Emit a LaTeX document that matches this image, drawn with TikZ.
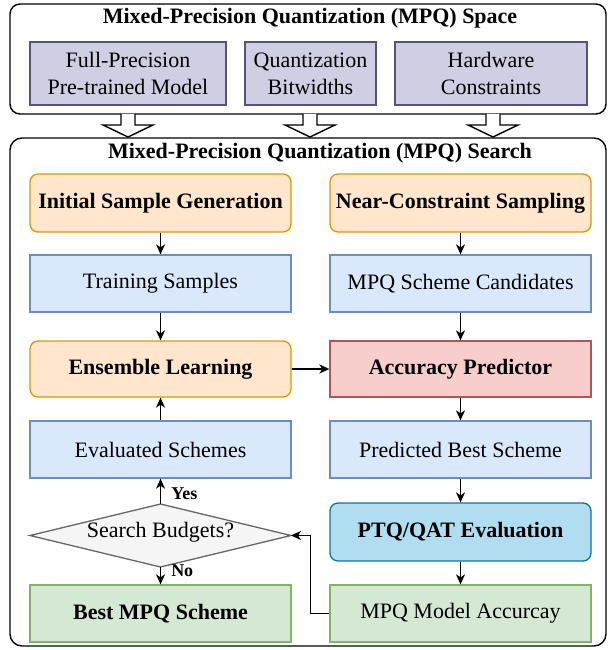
\documentclass[tikz,border=0pt]{standalone}
\usepackage{fontspec}
\setmainfont{Liberation Serif}
\usetikzlibrary{arrows.meta,shapes.geometric}
\definecolor{purpF}{HTML}{D0CEE2}
\definecolor{purpS}{HTML}{56517E}
\definecolor{oraF}{HTML}{FFE6CC}
\definecolor{oraS}{HTML}{D79B00}
\definecolor{bluF}{HTML}{DAE8FC}
\definecolor{bluS}{HTML}{6C8EBF}
\definecolor{redF}{HTML}{F8CECC}
\definecolor{redS}{HTML}{B85450}
\definecolor{cyaF}{HTML}{B1DDF0}
\definecolor{cyaS}{HTML}{10739E}
\definecolor{grnF}{HTML}{D5E8D4}
\definecolor{grnS}{HTML}{82B366}
\definecolor{gryF}{HTML}{F5F5F5}
\definecolor{gryS}{HTML}{666666}
\begin{document}
\begin{tikzpicture}[x=1pt,y=-1pt,
  font=\fontsize{22}{27}\selectfont,
  base/.style={line width=1.3pt, minimum width=261pt, align=center, inner sep=0pt},
  purp/.style={draw=purpS, fill=purpF, line width=1.3pt, minimum height=63pt, align=center, inner sep=0pt},
  orangebox/.style={base, draw=oraS, fill=oraF, rounded corners=8pt, font=\fontsize{22}{27}\selectfont\bfseries},
  bluebox/.style={base, draw=bluS, fill=bluF},
  redbox/.style={base, draw=redS, fill=redF, font=\fontsize{22}{27}\selectfont\bfseries},
  cyanbox/.style={base, draw=cyaS, fill=cyaF, rounded corners=8pt, font=\fontsize{22}{27}\selectfont\bfseries},
  greenbox/.style={base, draw=grnS, fill=grnF},
  frame/.style={draw=black, line width=1.4pt, rounded corners=10pt},
  titletext/.style={font=\fontsize{22}{27}\selectfont\bfseries, inner sep=0pt},
  arr/.style={-{Stealth[length=10pt,width=9pt,inset=3pt]}, line width=1.5pt},
  lbl/.style={font=\fontsize{18}{20}\selectfont\bfseries, inner sep=0pt},
  hollow/.style={draw=black, fill=white, line width=1.4pt}
]
\useasboundingbox (0,0) rectangle (611,650);

% outer frames
\draw[frame] (10,4) rectangle (606,114);
\draw[frame, rounded corners=12pt] (10,138) rectangle (606,646);
\node[titletext] (t1) at (310,18) {Mixed-Precision Quantization (MPQ) Space};
\node[titletext] (t2) at (320,153) {Mixed-Precision Quantization (MPQ) Search};

% space boxes
\node[purp, minimum width=196pt] (fp) at (128,73.5) {Full-Precision\\Pre-trained Model};
\node[purp, minimum width=131pt] (qb) at (310.5,73.5) {Quantization\\Bitwidths};
\node[purp, minimum width=192pt] (hc) at (491,73.5) {Hardware\\Constraints};

% hollow arrows
\foreach \xx in {128,310,493}{
  \draw[hollow] (\xx-7,114) -- (\xx-7,125) -- (\xx-25,125) -- (\xx,137)
     -- (\xx+25,125) -- (\xx+7,125) -- (\xx+7,114);
}

% left column
\node[orangebox, minimum height=58pt] (isg) at (160.5,203) {Initial Sample Generation};
\node[bluebox, minimum height=57pt] (ts) at (160.5,283.5) {Training Samples};
\node[orangebox, minimum height=56pt] (el) at (160.5,369) {Ensemble Learning};
\node[bluebox, minimum height=57pt] (es) at (160.5,449.5) {Evaluated Schemes};
\node[base, draw=grnS, fill=grnF, minimum height=57pt, font=\fontsize{22}{27}\selectfont\bfseries] (best) at (160.5,613.5) {Best MPQ Scheme};

% diamond
\coordinate (dtop) at (160.5,504);
\coordinate (dbot) at (160.5,567);
\coordinate (dleft) at (30,535.5);
\coordinate (dright) at (291,535.5);
\draw[draw=gryS, fill=gryF, line width=1.3pt] (dtop) -- (dright) -- (dbot) -- (dleft) -- cycle;
\node[inner sep=0pt] (sb) at (160.5,532) {Search Budgets?};

% right column
\node[orangebox, minimum height=58pt] (ncs) at (460.5,203) {Near-Constraint Sampling};
\node[bluebox, minimum height=57pt] (msc) at (460.5,283.5) {MPQ Scheme Candidates};
\node[redbox, minimum height=56pt] (ap) at (460.5,369) {Accuracy Predictor};
\node[bluebox, minimum height=57pt] (pbs) at (460.5,449.5) {Predicted Best Scheme};
\node[cyanbox, minimum height=58pt] (pq) at (460.5,532) {PTQ/QAT Evaluation};
\node[greenbox, minimum height=57pt] (acc) at (460.5,613.5) {MPQ Model Accurcay};

% connectors
\draw[arr] (isg) -- (ts);
\draw[arr] (ts) -- (el);
\draw[arr] (es) -- (el);
\draw[arr] (el) -- (ap);
\draw[arr] (ncs) -- (msc);
\draw[arr] (msc) -- (ap);
\draw[arr] (ap) -- (pbs);
\draw[arr] (pbs) -- (pq);
\draw[arr] (pq) -- (acc);
\draw[arr] (dtop) -- (es.south) node[lbl, pos=0.4, right=10pt] {Yes};
\draw[arr] (dbot) -- (best.north) node[lbl, pos=0.2, right=10pt] {No};
\draw[arr] (acc.west) -- ++(-19,0) |- (dright);
\end{tikzpicture}
\end{document}
